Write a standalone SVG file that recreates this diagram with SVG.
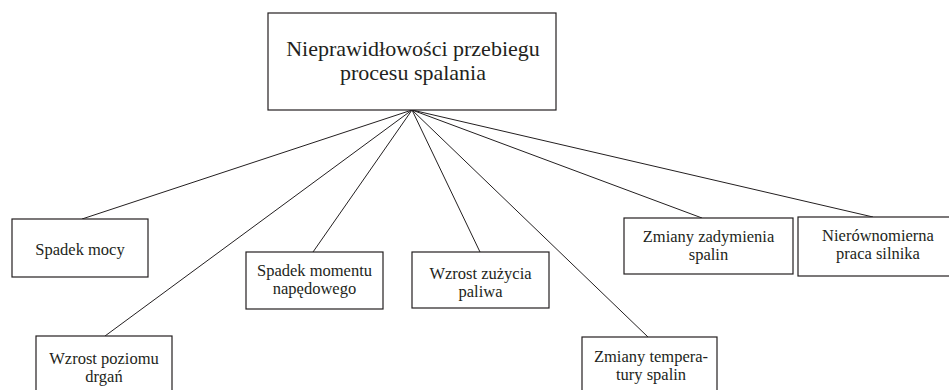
<svg xmlns="http://www.w3.org/2000/svg" width="949" height="390" viewBox="0 0 949 390">
<style>
.box{fill:#fff;stroke:#231f20;stroke-width:1.2}
.lbl{font-family:"Liberation Serif",Times,"Noto Serif","FreeSerif",serif;font-size:16.5px;fill:#231f20;text-anchor:middle}
.ttl{font-family:"Liberation Serif",Times,"Noto Serif","FreeSerif",serif;font-size:22px;fill:#231f20;text-anchor:middle}
.con{stroke:#231f20;stroke-width:1;fill:none}
</style>
<rect width="949" height="390" fill="#fff"/>
<g id="connectors">
<line class="con" x1="412" y1="110" x2="82" y2="219"/>
<line class="con" x1="412" y1="110" x2="105" y2="336"/>
<line class="con" x1="412" y1="110" x2="313" y2="252"/>
<line class="con" x1="412" y1="110" x2="480" y2="252"/>
<line class="con" x1="412" y1="110" x2="648" y2="337"/>
<line class="con" x1="412" y1="110" x2="702" y2="218"/>
<line class="con" x1="412" y1="110" x2="873" y2="217"/>
</g>
<g id="root">
<rect class="box" x="268" y="13" width="288" height="97"/>
<text class="ttl" x="413" y="56">Nieprawidłowości przebiegu</text>
<text class="ttl" x="413" y="80">procesu spalania</text>
</g>
<g id="spadek-mocy">
<rect class="box" x="12" y="219" width="136" height="58"/>
<text class="lbl" x="80" y="255">Spadek mocy</text>
</g>
<g id="wzrost-poziomu">
<rect class="box" x="36" y="336" width="136" height="70"/>
<text class="lbl" x="104" y="364">Wzrost poziomu</text>
<text class="lbl" x="104" y="382">drgań</text>
</g>
<g id="spadek-momentu">
<rect class="box" x="246" y="252" width="137" height="57"/>
<text class="lbl" x="314.5" y="276">Spadek momentu</text>
<text class="lbl" x="314.5" y="294">napędowego</text>
</g>
<g id="wzrost-zuzycia">
<rect class="box" x="412" y="252" width="137" height="56"/>
<text class="lbl" x="480.5" y="279">Wzrost zużycia</text>
<text class="lbl" x="480.5" y="297">paliwa</text>
</g>
<g id="zmiany-temperatury">
<rect class="box" x="582" y="337" width="135" height="70"/>
<text class="lbl" x="651" y="362">Zmiany tempera-</text>
<text class="lbl" x="651" y="380">tury spalin</text>
</g>
<g id="zmiany-zadymienia">
<rect class="box" x="624" y="218" width="169" height="56"/>
<text class="lbl" x="708.5" y="242">Zmiany zadymienia</text>
<text class="lbl" x="708.5" y="260">spalin</text>
</g>
<g id="nierownomierna">
<rect class="box" x="798" y="217" width="160" height="59"/>
<text class="lbl" x="878" y="241">Nierównomierna</text>
<text class="lbl" x="878" y="259">praca silnika</text>
</g>
</svg>
